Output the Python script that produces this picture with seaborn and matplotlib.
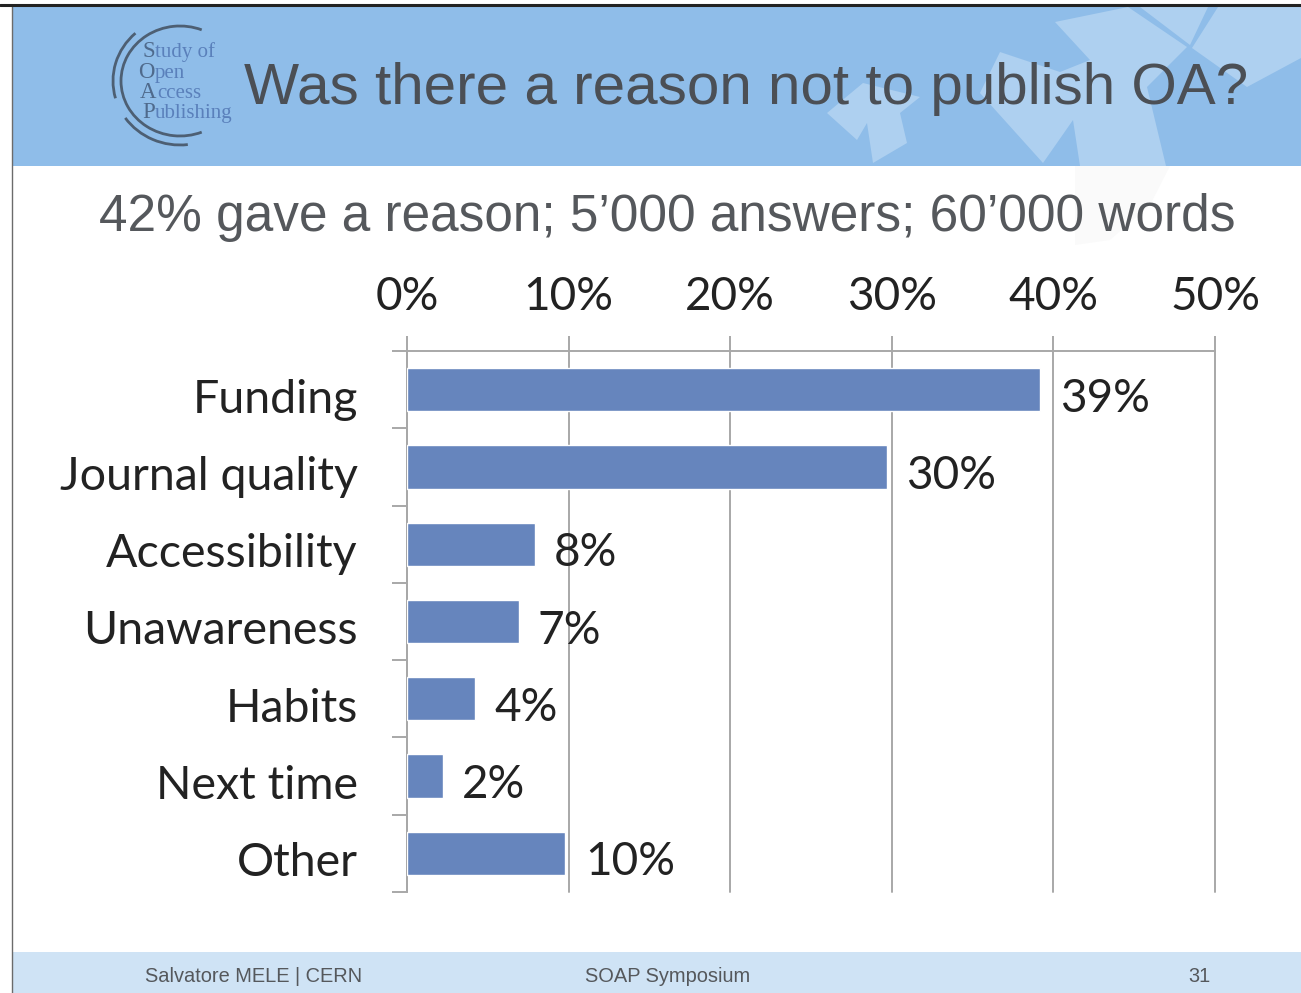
import matplotlib
matplotlib.use("Agg")
import matplotlib.pyplot as plt
from matplotlib.patches import Arc
from matplotlib.transforms import ScaledTranslation
import pandas as pd
import seaborn as sns

# values
reasons = ["Funding", "Journal quality", "Accessibility", "Unawareness", "Habits", "Next time", "Other"]
shares = [39.2, 29.7, 7.9, 6.9, 4.2, 2.2, 9.8]
share_labels = ["39%", "30%", "8%", "7%", "4%", "2%", "10%"]
x_ticks = [0, 10, 20, 30, 40, 50]
x_tick_labels = ["0%", "10%", "20%", "30%", "40%", "50%"]

title = "Was there a reason not to publish OA?"
subtitle = "42% gave a reason; 5\u2019000 answers; 60\u2019000 words"

W, H = 1301, 993
grey = "#a8a8a8"

sns.set_style("white")
plt.rcParams["font.family"] = ["Lato", "DejaVu Sans"]

fig = plt.figure(figsize=(W / 100, H / 100), dpi=100, facecolor="white")

# slide background, in pixel coordinates
bg = fig.add_axes([0, 0, 1, 1], zorder=0)
bg.set_xlim(0, W)
bg.set_ylim(H, 0)
bg.axis("off")
bg.fill([12, W, W, 12], [6, 6, 166, 166], color="#8fbde9", lw=0)
bg.fill([12, W, W, 12], [952, 952, H, H], color="#cfe3f5", lw=0)
bg.plot([12, 12], [5, H], color="#6b6b6b", lw=1)
bg.plot([0, W], [5, 5], color="#222222", lw=2.2)

# pale ribbon shapes in the header
light = "#aed0f0"
bg.fill([1055, 1128, 1187, 1147, 1166, 1080, 1073, 1043, 980, 1000, 1060, 1090],
        [22, 7, 47, 87, 166, 166, 120, 163, 93, 52, 72, 60],
        color=light, lw=0)
bg.fill([1140, 1208, 1190], [7, 7, 45], color=light, lw=0)
bg.fill([1218, 1301, 1301, 1247, 1192], [7, 7, 58, 87, 48], color=light, lw=0)
bg.fill([827, 863, 920, 900, 907, 873, 867, 857], [113, 83, 97, 113, 143, 163, 123, 140], color=light, lw=0)
bg.fill([1075, 1170, 1150, 1110, 1075], [166, 166, 205, 240, 245], color="#fafafa", lw=0)

# logo
bg.add_patch(Arc((180, 81), 118, 110, theta1=67, theta2=293, color="#4d5f73", lw=2))
bg.add_patch(Arc((180, 81), 134, 128, theta1=165, theta2=227, color="#4d5f73", lw=2))
bg.add_patch(Arc((180, 81), 134, 128, theta1=83, theta2=146, color="#4d5f73", lw=2))
logo = [("S", "tudy of", 142, 155, 57), ("O", "pen", 138, 155, 78), ("A", "ccess", 140, 157, 98), ("P", "ublishing", 142, 155, 118)]
for first, rest, lx, rx, ly in logo:
    bg.text(lx, ly, first, family="Liberation Serif", fontsize=16.5, color="#4f6a8c", va="baseline")
    bg.text(rx, ly, rest, family="Liberation Serif", fontsize=15, color="#5a80bb", va="baseline")

bg.text(746, 89, title, family="Liberation Sans", fontsize=42, color="#4b4f55", ha="center", va="center")
bg.text(667, 218, subtitle, family="Liberation Sans", fontsize=37, color="#55585c", ha="center", va="center")

bg.text(254, 977, "Salvatore MELE | CERN", family="Liberation Sans", fontsize=14.4, color="#55585c", ha="center", va="center")
bg.text(668, 977, "SOAP Symposium", family="Liberation Sans", fontsize=14.4, color="#55585c", ha="center", va="center")
bg.text(1199, 977, "31", family="Liberation Sans", fontsize=14.4, color="#55585c", ha="center", va="center")

# chart
ax = fig.add_axes([407 / W, 1 - 892 / H, 808 / W, 541 / H], zorder=1)
ax.patch.set_alpha(0)
df = pd.DataFrame({"reason": reasons, "share": shares})
sns.barplot(data=df, x="share", y="reason", order=reasons, color="#6685bd", saturation=1, width=0.56, ax=ax, zorder=3)

ax.set_xlim(0, 50)
ax.set_ylim(6.5, -0.5)
ax.set_xlabel("")
ax.set_ylabel("")
ax.xaxis.tick_top()
ax.set_xticks(x_ticks, x_tick_labels)
ax.grid(axis="x", color=grey, lw=1.4, zorder=1)
ax.grid(axis="y", visible=False)
ax.set_axisbelow(True)
for line in ax.get_xgridlines():
    line.set_clip_on(False)

ax.set_yticks([i - 0.5 for i in range(len(reasons) + 1)], minor=True)
ax.tick_params(axis="y", which="minor", left=True, length=11, width=1.4, color=grey)
ax.tick_params(axis="y", which="major", left=False, length=0, pad=35.5, labelsize=33.5, labelcolor="#222222")
ax.tick_params(axis="x", top=True, length=11, width=1.4, color=grey, pad=13, labelsize=33, labelcolor="#222222")

for side in ["right", "bottom"]:
    ax.spines[side].set_visible(False)
for side in ["top", "left"]:
    ax.spines[side].set_color(grey)
    ax.spines[side].set_linewidth(1.4)

# labels sit a little below the bar centres on the slide
nudge = ScaledTranslation(0, -6 / 100, fig.dpi_scale_trans)
for lab in ax.get_yticklabels():
    lab.set_transform(lab.get_transform() + nudge)

bar_texts = ax.bar_label(ax.containers[0], labels=share_labels, padding=14, fontsize=33, color="#222222", zorder=4)
for t in bar_texts:
    t.xyann = (14, -6.5)

fig.savefig("out.png", dpi=100)
